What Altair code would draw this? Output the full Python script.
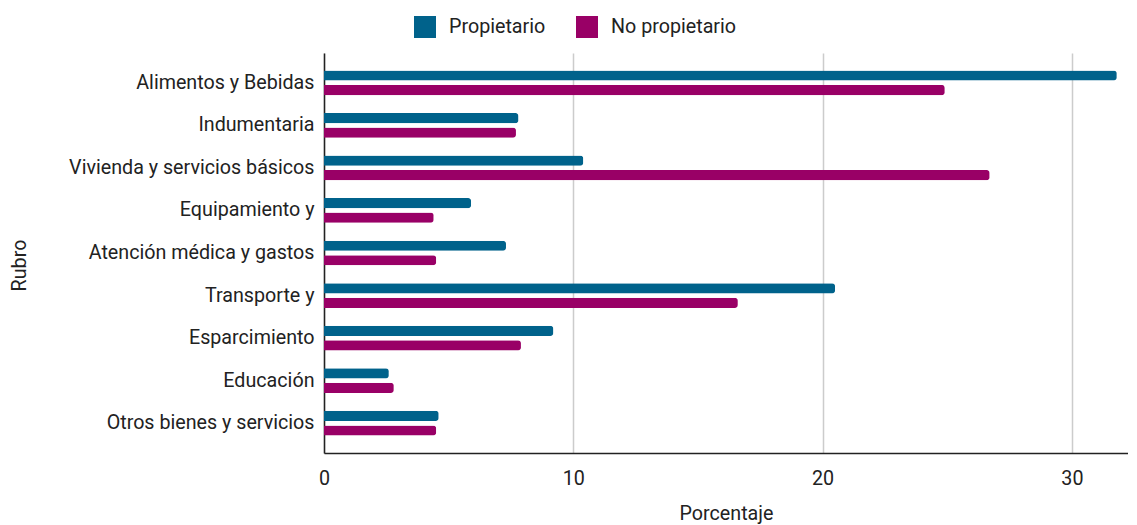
import altair as alt
import pandas as pd

rubros = ["Alimentos y Bebidas", "Indumentaria", "Vivienda y servicios básicos",
          "Equipamiento y", "Atención médica y gastos", "Transporte y",
          "Esparcimiento", "Educación", "Otros bienes y servicios"]
propietario = [31.8, 7.8, 10.4, 5.9, 7.3, 20.5, 9.2, 2.6, 4.6]
no_propietario = [24.9, 7.7, 26.7, 4.4, 4.5, 16.6, 7.9, 2.8, 4.5]
series = ["Propietario", "No propietario"]
colors = ["#00628b", "#990066"]

rows = []
for r, a, b in zip(rubros, propietario, no_propietario):
    rows.append({"Rubro": r, "Serie": series[0], "Porcentaje": a})
    rows.append({"Rubro": r, "Serie": series[1], "Porcentaje": b})
df = pd.DataFrame(rows)

FONT = "Roboto"
FS = 19.7

chart = alt.Chart(df).mark_bar(cornerRadiusEnd=3).encode(
    y=alt.Y("Rubro:N", sort=rubros,
            scale=alt.Scale(paddingInner=0.42, paddingOuter=0.41),
            axis=alt.Axis(title="Rubro", labelFontSize=FS, labelColor="#222222",
                          labelPadding=10, labelLimit=0, ticks=False, domainColor="#222222",
                          domainWidth=1.5, titleFontSize=FS, titleFontWeight="normal",
                          titleColor="#222222", titleAngle=-90, titleX=-305, titleY=212,
                          titleAlign="center", titleBaseline="middle",
                          labelFont=FONT, titleFont=FONT, grid=False)),
    yOffset=alt.YOffset("Serie:N", sort=series, scale=alt.Scale(paddingInner=0.3)),
    x=alt.X("Porcentaje:Q", scale=alt.Scale(domain=[0, 32.25], nice=False),
            axis=alt.Axis(title="Porcentaje", values=[0, 10, 20, 30], labelFontSize=FS,
                          labelColor="#222222", labelPadding=15, labelFlush=False,
                          ticks=False,
                          domainColor="#222222", domainWidth=1.5, gridColor="#cccccc",
                          gridWidth=1.5, titleFontSize=FS, titleFontWeight="normal",
                          titleColor="#222222", titlePadding=16, labelFont=FONT,
                          titleFont=FONT)),
    color=alt.Color("Serie:N", sort=series,
                    scale=alt.Scale(domain=series, range=colors),
                    legend=alt.Legend(title=None, orient="none", direction="horizontal",
                                      legendX=90, legendY=-37, symbolType="square",
                                      symbolSize=484, symbolStrokeWidth=0,
                                      labelFontSize=FS, labelColor="#222222",
                                      labelFont=FONT, labelOffset=13, columnPadding=30)),
).properties(
    width=804, height=400,
    autosize=alt.AutoSizeParams(type="none"),
    padding={"left": 316, "top": 45, "right": 0, "bottom": 72},
).configure_view(stroke=None)

chart.save("out.html", embed_options={"renderer": "svg", "actions": False})
